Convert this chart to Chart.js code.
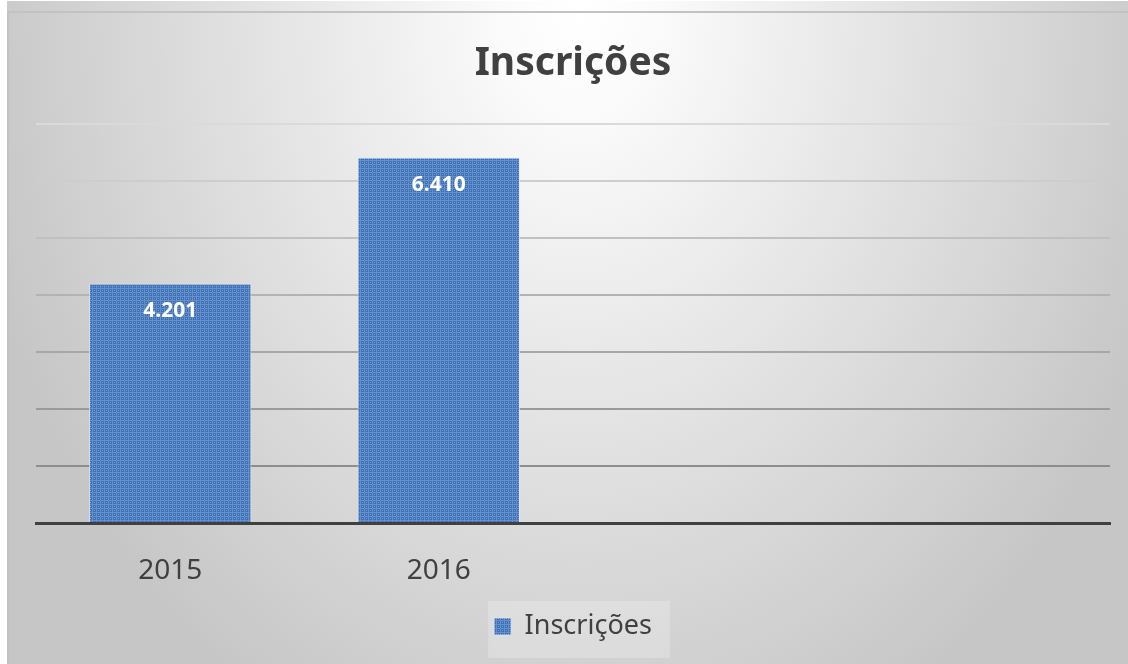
<!DOCTYPE html>
<html>
<head>
<meta charset="utf-8">
<script src="https://cdn.jsdelivr.net/npm/chart.js@4/dist/chart.umd.min.js"></script>
<style>
  html, body { margin: 0; padding: 0; background: #fff; }
  #wrap { width: 1128px; height: 664px; }
</style>
</head>
<body>
<div id="wrap"><canvas id="chart" width="1128" height="664"></canvas></div>
<script>
// data
const categories = ['2015', '2016', '', ''];
const inscricoes = [4201, 6410, null, null];
const seriesName = 'Inscrições';
const yMax = 7000;
const yStep = 1000;

function fmt(v) {
  return String(v).replace(/\B(?=(\d{3})+(?!\d))/g, '.');
}

// dotted blue fill like the original
function barPattern() {
  const c = document.createElement('canvas');
  c.width = 4; c.height = 4;
  const g = c.getContext('2d');
  g.fillStyle = '#3f71b8';
  g.fillRect(0, 0, 4, 4);
  g.fillStyle = '#6690ca';
  g.fillRect(0, 0, 4, 1);
  g.fillRect(0, 0, 1, 4);
  g.fillStyle = '#7ca1d5';
  g.fillRect(2, 2, 1, 1);
  return g.createPattern(c, 'repeat');
}

const frameBg = {
  id: 'frameBg',
  beforeDraw(chart) {
    const ctx = chart.ctx;
    ctx.save();
    ctx.fillStyle = '#ffffff';
    ctx.fillRect(0, 0, chart.width, chart.height);
    ctx.translate(580, 10);
    ctx.scale(1, 1.3);
    const grd = ctx.createRadialGradient(0, 0, 0, 0, 0, 620);
    grd.addColorStop(0, '#ffffff');
    grd.addColorStop(0.12, '#fbfbfb');
    grd.addColorStop(1, '#c6c6c6');
    ctx.fillStyle = grd;
    ctx.fillRect(-580 + 7, -10 / 1.3 + 1 / 1.3, 2000, 2000);
    ctx.restore();
    ctx.save();
    ctx.strokeStyle = '#c2c2c2';
    ctx.lineWidth = 2;
    ctx.beginPath();
    ctx.moveTo(8, chart.height + 2);
    ctx.lineTo(8, 12);
    ctx.lineTo(chart.width + 2, 12);
    ctx.stroke();
    ctx.restore();

    // faint box behind the legend
    const lg = chart.legend;
    if (lg && lg.legendHitBoxes && lg.legendHitBoxes.length) {
      const hb = lg.legendHitBoxes[0];
      ctx.save();
      ctx.fillStyle = 'rgba(255,255,255,0.22)';
      ctx.fillRect(hb.left - 6, lg.top - 2, hb.width + 24, lg.height + 10);
      ctx.restore();
    }
  }
};

const valueLabels = {
  id: 'valueLabels',
  afterDatasetsDraw(chart) {
    const ctx = chart.ctx;
    const meta = chart.getDatasetMeta(0);
    ctx.save();
    ctx.fillStyle = '#ffffff';
    ctx.font = 'bold 21px "Noto Sans"';
    ctx.textAlign = 'center';
    ctx.textBaseline = 'middle';
    meta.data.forEach((bar, i) => {
      const v = chart.data.datasets[0].data[i];
      if (v == null) return;
      ctx.fillText(fmt(v), bar.x, bar.y + 28);
    });
    ctx.restore();
  }
};

function gridColor(c) {
  const t = Math.min(1, Math.max(0, (c.tick ? c.tick.value : 0) / yMax));
  const a = [0x80, 0x80, 0x80], b = [0xda, 0xda, 0xda];
  const m = a.map((x, k) => Math.round(x + (b[k] - x) * t));
  return `rgb(${m[0]},${m[1]},${m[2]})`;
}

new Chart(document.getElementById('chart'), {
  type: 'bar',
  data: {
    labels: categories,
    datasets: [{
      label: seriesName,
      data: inscricoes,
      backgroundColor: barPattern(),
      borderColor: 'rgba(220,232,247,0.7)',
      borderWidth: 1,
      categoryPercentage: 1,
      barPercentage: 0.605,
    }],
  },
  options: {
    responsive: false,
    animation: false,
    layout: { padding: { left: 36, right: 18, top: 0, bottom: 14 } },
    plugins: {
      title: {
        display: true,
        text: seriesName,
        color: '#404040',
        font: { family: 'Noto Sans', size: 39, weight: 'bold' },
        padding: { top: 40, bottom: 37 },
      },
      legend: {
        position: 'bottom',
        labels: {
          color: '#404040',
          font: { family: 'Noto Sans', size: 27 },
          boxWidth: 17,
          boxHeight: 17,
          padding: 10,
        },
      },
      tooltip: { enabled: false },
    },
    scales: {
      x: {
        grid: { display: false, drawTicks: false },
        border: { display: true, color: '#404040', width: 3 },
        ticks: {
          color: '#404040',
          font: { family: 'Noto Sans', size: 28 },
          padding: 31,
        },
        afterFit(s) { s.height = 80; },
      },
      y: {
        min: 0,
        max: yMax,
        ticks: { display: false, stepSize: yStep },
        grid: { color: gridColor, lineWidth: 2, drawTicks: false },
        border: { display: false },
        afterFit(s) { s.width = 0; },
      },
    },
  },
  plugins: [frameBg, valueLabels],
});
</script>
</body>
</html>
